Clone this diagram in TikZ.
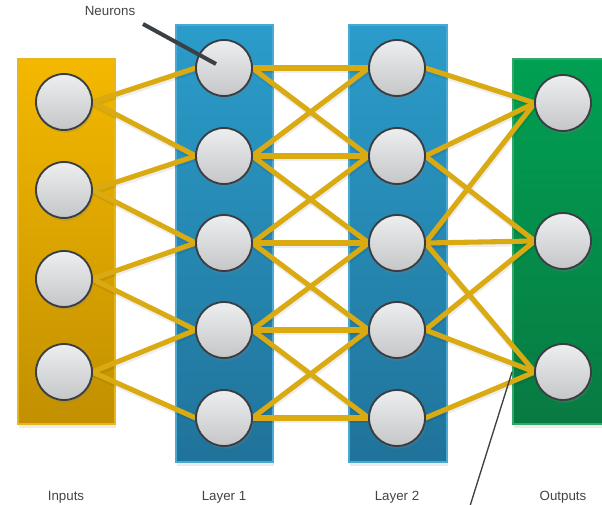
\documentclass[tikz,border=0pt]{standalone}
\usepackage{fontspec}
\setmainfont{Liberation Sans}
\usetikzlibrary{shadows}
\definecolor{goldT}{HTML}{F4B800}
\definecolor{goldB}{HTML}{C29000}
\definecolor{goldE}{HTML}{E6B520}
\definecolor{blueT}{HTML}{2B9CCA}
\definecolor{blueB}{HTML}{20739A}
\definecolor{blueE}{HTML}{4AA8D2}
\definecolor{greenT}{HTML}{00A052}
\definecolor{greenB}{HTML}{087A42}
\definecolor{greenE}{HTML}{30A868}
\definecolor{edgeC}{HTML}{DAAA12}
\definecolor{ringC}{HTML}{3A3D41}
\definecolor{nTop}{HTML}{EDEEEF}
\definecolor{nBot}{HTML}{C5C6C8}
\definecolor{txtC}{HTML}{444444}
\definecolor{ptrC}{HTML}{3B4045}
\tikzset{
  layerbox/.style={line width=1pt, drop shadow={opacity=0.15, shadow xshift=1pt, shadow yshift=-3pt}},
  neuron/.style={circle, minimum size=42pt, inner sep=0pt, draw=ringC, line width=1.4pt,
    top color=nTop, bottom color=nBot,
    drop shadow={opacity=0.25, shadow xshift=1pt, shadow yshift=-2pt}},
  link/.style={draw=edgeC, line width=3.8pt},
  linkshadow/.style={draw=black, opacity=0.07, line width=4.5pt},
  lbl/.style={text=txtC, font=\fontsize{10}{11}\selectfont},
}
\begin{document}
\begin{tikzpicture}[x=0.75pt,y=-0.75pt]
\useasboundingbox (0,0) rectangle (602,505);
% layer boxes
\path[layerbox, draw=goldE, top color=goldT, bottom color=goldB] (18,59) rectangle (115,424);
\path[layerbox, draw=blueE, top color=blueT, bottom color=blueB] (176,25) rectangle (273,462);
\path[layerbox, draw=blueE, top color=blueT, bottom color=blueB] (349,25) rectangle (447,462);
\path[layerbox, draw=greenE, top color=greenT, bottom color=greenB] (513,59) rectangle (606,424);
% neuron coordinates
\foreach \i/\y in {1/102,2/190,3/279,4/372}{\coordinate (pi\i) at (64,\y);}
\foreach \i/\y in {1/68,2/156,3/243,4/330,5/418}{\coordinate (pa\i) at (224,\y); \coordinate (pb\i) at (397,\y);}
\foreach \i/\y in {1/103,2/241,3/372}{\coordinate (po\i) at (563,\y);}
% hidden anchors for the neurons
\foreach \i in {1,...,4}{\path (pi\i) node[circle,minimum size=42pt,inner sep=0pt] (in\i) {};}
\foreach \i in {1,...,5}{\path (pa\i) node[circle,minimum size=42pt,inner sep=0pt] (ha\i) {};
                         \path (pb\i) node[circle,minimum size=42pt,inner sep=0pt] (hb\i) {};}
\foreach \i in {1,...,3}{\path (po\i) node[circle,minimum size=42pt,inner sep=0pt] (out\i) {};}
% connectors
\def\linklist{in1/ha1,in1/ha2,in2/ha2,in2/ha3,in3/ha3,in3/ha4,in4/ha4,in4/ha5,
ha1/hb1,ha1/hb2,ha2/hb1,ha2/hb2,ha2/hb3,ha3/hb2,ha3/hb3,ha3/hb4,ha4/hb3,ha4/hb4,ha4/hb5,ha5/hb4,ha5/hb5,
hb1/out1,hb2/out1,hb2/out2,hb3/out1,hb3/out2,hb3/out3,hb4/out2,hb4/out3,hb5/out3}
\foreach \a/\b in \linklist{\draw[linkshadow] ([shift={(0.5pt,-1.5pt)}]\a.east) -- ([shift={(0.5pt,-1.5pt)}]\b.west);}
\foreach \a/\b in \linklist{\draw[link] (\a.east) -- (\b.west);}
% visible neurons
\foreach \i in {1,...,4}{\node[neuron] at (in\i) {};}
\foreach \i in {1,...,5}{\node[neuron] at (ha\i) {}; \node[neuron] at (hb\i) {};}
\foreach \i in {1,...,3}{\node[neuron] at (out\i) {};}
% pointers
\coordinate (nptrA) at (143,24);
\coordinate (nptrB) at (216,64);
\draw[ptrC, line width=3pt] (nptrA) -- (nptrB);
\coordinate (optrA) at (512,372);
\coordinate (optrB) at (470,506);
\draw[ptrC, line width=1pt] (optrA) -- (optrB);
% labels
\node[lbl] (tneur) at (110,11) {Neurons};
\node[lbl] (tin) at (66,497) {Inputs};
\node[lbl] (tl1) at (224,497) {Layer 1};
\node[lbl] (tl2) at (397,497) {Layer 2};
\node[lbl] (tout) at (563,497) {Outputs};
\end{tikzpicture}
\end{document}
